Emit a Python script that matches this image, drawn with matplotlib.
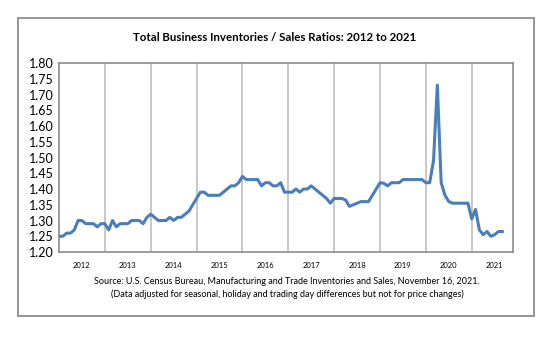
# Total business inventories / sales ratio, monthly Jan 2012 - Sep 2021
import matplotlib
matplotlib.use("Agg")
import matplotlib.pyplot as plt
from matplotlib.patches import Rectangle

plt.rcParams['font.family'] = ['Lato', 'DejaVu Sans']

years = ['2012', '2013', '2014', '2015', '2016', '2017', '2018', '2019', '2020', '2021']
y_ticks = [1.20, 1.25, 1.30, 1.35, 1.40, 1.45, 1.50, 1.55, 1.60, 1.65, 1.70, 1.75, 1.80]

# monthly ratios
ratio_2012 = [1.25, 1.25, 1.26, 1.26, 1.27, 1.30, 1.30, 1.29, 1.29, 1.29, 1.28, 1.29]
ratio_2013 = [1.29, 1.27, 1.30, 1.28, 1.29, 1.29, 1.29, 1.30, 1.30, 1.30, 1.29, 1.31]
ratio_2014 = [1.32, 1.31, 1.30, 1.30, 1.30, 1.31, 1.30, 1.31, 1.31, 1.32, 1.33, 1.35]
ratio_2015 = [1.37, 1.39, 1.39, 1.38, 1.38, 1.38, 1.38, 1.39, 1.40, 1.41, 1.41, 1.42]
ratio_2016 = [1.44, 1.43, 1.43, 1.43, 1.43, 1.41, 1.42, 1.42, 1.41, 1.41, 1.42, 1.39]
ratio_2017 = [1.39, 1.39, 1.40, 1.39, 1.40, 1.40, 1.41, 1.40, 1.39, 1.38, 1.37, 1.355]
ratio_2018 = [1.37, 1.37, 1.37, 1.365, 1.345, 1.35, 1.355, 1.36, 1.36, 1.36, 1.38, 1.40]
ratio_2019 = [1.42, 1.418, 1.41, 1.42, 1.42, 1.42, 1.43, 1.43, 1.43, 1.43, 1.43, 1.43]
ratio_2020 = [1.42, 1.42, 1.49, 1.73, 1.42, 1.38, 1.36, 1.355, 1.355, 1.355, 1.355, 1.355]
ratio_2021 = [1.305, 1.335, 1.27, 1.255, 1.265, 1.25, 1.255, 1.265, 1.265]

ratios = (ratio_2012 + ratio_2013 + ratio_2014 + ratio_2015 + ratio_2016
          + ratio_2017 + ratio_2018 + ratio_2019 + ratio_2020 + ratio_2021)
months = list(range(len(ratios)))

fig = plt.figure(figsize=(5.54, 3.38), dpi=100)

# chart border
fig.patches.append(Rectangle((0.0325, 0.065), 0.932, 0.882, transform=fig.transFigure,
                             fill=False, edgecolor='#8c8c8c', linewidth=1.3))

ax = fig.add_axes([0.1065, 0.2544, 0.8195, 0.5592])

for k in range(1, 10):
    ax.axvline(12 * k, color='#c4c4c4', linewidth=1.3, zorder=1)

ax.plot(months, ratios, color='#4a7ebb', linewidth=2.2, zorder=3)

ax.set_xlim(0, 118.8)
ax.set_ylim(1.20, 1.80)
ax.set_yticks(y_ticks)
ax.set_yticklabels(['%.2f' % v for v in y_ticks], fontsize=9)
ax.set_xticks([12 * k + 6 for k in range(10)])
ax.set_xticklabels(years, fontsize=5.5)
ax.tick_params(axis='both', length=0, pad=4)
ax.tick_params(axis='x', pad=7)
for s in ax.spines.values():
    s.set_color('#8c8c8c')
    s.set_linewidth(1.2)

fig.text(0.496, 0.8876, 'Total Business Inventories / Sales Ratios: 2012 to 2021',
         ha='center', va='center', fontsize=8.3, fontweight='bold')
fig.text(0.518, 0.166, 'Source: U.S. Census Bureau, Manufacturing and Trade Inventories and Sales, November 16, 2021.',
         ha='center', va='center', fontsize=6.5)
fig.text(0.518, 0.130, '(Data adjusted for seasonal, holiday and trading day differences but not for price changes)',
         ha='center', va='center', fontsize=6.5)

fig.savefig('out.png', dpi=100)
